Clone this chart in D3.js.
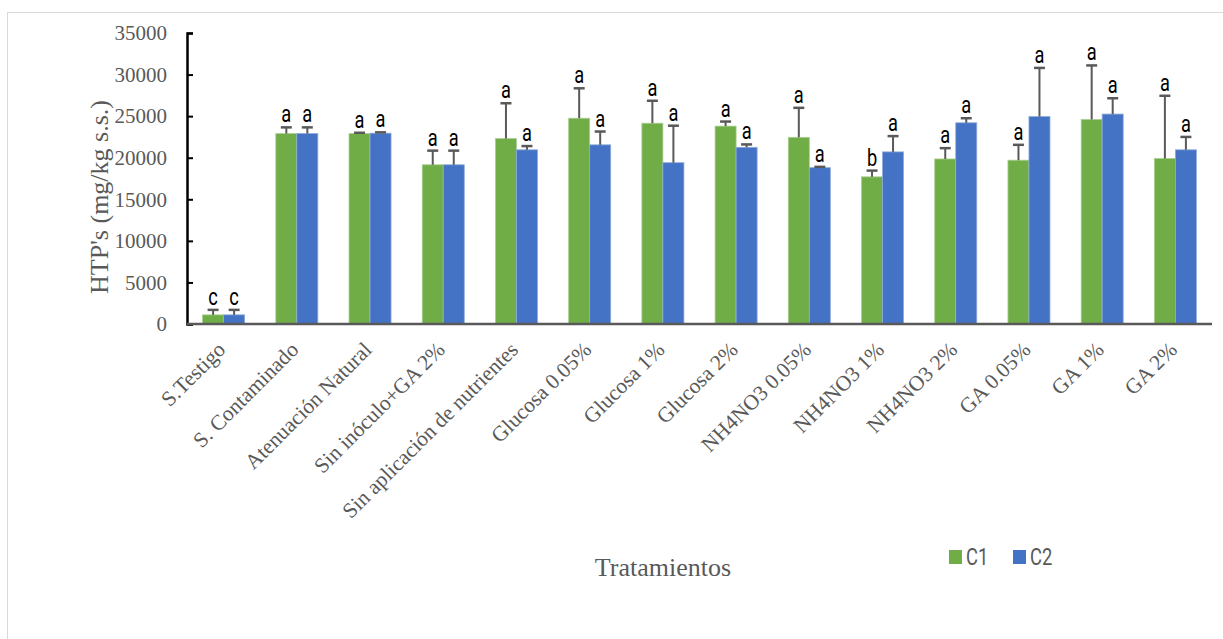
<!DOCTYPE html>
<html>
<head>
<meta charset="utf-8">
<script src="https://cdn.jsdelivr.net/npm/d3@7"></script>
<style>
  html, body { margin: 0; padding: 0; background: #fff; }
  svg { display: block; }
</style>
</head>
<body>
<svg id="chart" width="1223" height="639"></svg>
<script>
// Treatments on the x axis
const categories = [
  "S.Testigo", "S. Contaminado", "Atenuación Natural", "Sin inóculo+GA 2%",
  "Sin aplicación de nutrientes", "Glucosa 0.05%", "Glucosa 1%", "Glucosa 2%",
  "NH4NO3 0.05%", "NH4NO3 1%", "NH4NO3 2%", "GA 0.05%", "GA 1%", "GA 2%"
];
const seriesNames = ["C1", "C2"];

// HTP's (mg/kg s.s.) per treatment
const c1Values = [1100, 22900, 22900, 19150, 22300, 24750, 24150, 23800, 22450, 17700, 19850, 19700, 24600, 19900];
const c2Values = [1100, 22900, 22950, 19150, 20950, 21550, 19400, 21250, 18800, 20700, 24200, 24950, 25250, 20950];

// Upper error (standard deviation)
const c1Errors = [600, 750, 100, 1700, 4250, 3600, 2700, 550, 3550, 750, 1300, 1850, 6500, 7550];
const c2Errors = [600, 750, 100, 1700, 450, 1600, 4450, 350, 100, 1900, 550, 5850, 1900, 1550];

// Significance letters
const c1Letters = ["c", "a", "a", "a", "a", "a", "a", "a", "a", "b", "a", "a", "a", "a"];
const c2Letters = ["c", "a", "a", "a", "a", "a", "a", "a", "a", "a", "a", "a", "a", "a"];

const yTicks = [0, 5000, 10000, 15000, 20000, 25000, 30000, 35000];

const colors = { C1: "#70AD47", C2: "#4472C4" };
const strokes = { C1: "#a9cf8f", C2: "#8eaadb" };

const svg = d3.select("#chart");

// outer chart frame
svg.append("rect")
  .attr("x", 7.5).attr("y", 12.5)
  .attr("width", 1400).attr("height", 800)
  .attr("fill", "#fff").attr("stroke", "#d9d9d9").attr("stroke-width", 1);

const plot = { left: 187, right: 1212, top: 33, bottom: 324 };

const x0 = d3.scaleBand()
  .domain(categories)
  .range([plot.left, plot.right])
  .paddingInner(0.426)
  .paddingOuter(0.213);

const x1 = d3.scaleBand()
  .domain(seriesNames)
  .range([0, x0.bandwidth()]);

const y = d3.scaleLinear()
  .domain([0, 35000])
  .range([plot.bottom, plot.top]);

const rows = categories.map((c, i) => ({
  category: c,
  bars: [
    { key: "C1", value: c1Values[i], err: c1Errors[i], letter: c1Letters[i] },
    { key: "C2", value: c2Values[i], err: c2Errors[i], letter: c2Letters[i] }
  ]
}));

// y axis
const yAxis = d3.axisLeft(y).tickValues(yTicks).tickSize(-6).tickPadding(20).tickFormat(d3.format("d"));
const gy = svg.append("g").attr("transform", `translate(${plot.left},0)`).call(yAxis);
gy.select(".domain").attr("stroke", "#000").attr("stroke-width", 2.5);
gy.selectAll(".tick line").attr("stroke", "#000").attr("stroke-width", 2);
gy.selectAll(".tick text")
  .attr("font-family", "'Liberation Serif', 'Times New Roman', serif")
  .attr("font-size", 21).attr("fill", "#595959");

// bars
const groups = svg.append("g").selectAll("g")
  .data(rows).join("g")
  .attr("transform", d => `translate(${x0(d.category)},0)`);

groups.selectAll("rect")
  .data(d => d.bars).join("rect")
  .attr("x", d => x1(d.key))
  .attr("y", d => y(d.value))
  .attr("width", x1.bandwidth())
  .attr("height", d => y(0) - y(d.value))
  .attr("fill", d => colors[d.key])
  .attr("stroke", d => strokes[d.key])
  .attr("stroke-width", 0.8);

// error bars (upper)
const capHalf = 5.5;
const eb = groups.selectAll("g.err")
  .data(d => d.bars).join("g").attr("class", "err");
eb.append("line")
  .attr("x1", d => x1(d.key) + x1.bandwidth() / 2)
  .attr("x2", d => x1(d.key) + x1.bandwidth() / 2)
  .attr("y1", d => y(d.value))
  .attr("y2", d => y(d.value + d.err))
  .attr("stroke", "#595959").attr("stroke-width", 2);
eb.append("line")
  .attr("x1", d => x1(d.key) + x1.bandwidth() / 2 - capHalf)
  .attr("x2", d => x1(d.key) + x1.bandwidth() / 2 + capHalf)
  .attr("y1", d => y(d.value + d.err))
  .attr("y2", d => y(d.value + d.err))
  .attr("stroke", "#595959").attr("stroke-width", 2.5);

// significance letters
eb.append("text")
  .attr("transform", d => `translate(${x1(d.key) + x1.bandwidth() / 2},${y(d.value + d.err) - 5}) scale(0.76,1)`)
  .attr("text-anchor", "middle")
  .attr("font-family", "Roboto, 'Liberation Sans', sans-serif")
  .attr("font-size", 24)
  .attr("fill", "#000")
  .text(d => d.letter);

// x axis baseline
svg.append("line")
  .attr("x1", plot.left).attr("x2", plot.right)
  .attr("y1", y(0)).attr("y2", y(0))
  .attr("stroke", "#595959").attr("stroke-width", 2.5);

// rotated category labels
svg.append("g").selectAll("text")
  .data(categories).join("text")
  .attr("transform", d => `translate(${x0(d) + x0.bandwidth() / 2 + 3},351) rotate(-45)`)
  .attr("text-anchor", "end")
  .attr("font-family", "'Liberation Serif', 'Times New Roman', serif")
  .attr("font-size", 21.5)
  .attr("fill", "#595959")
  .text(d => d);

// axis titles
svg.append("text")
  .attr("transform", "translate(108,197) rotate(-90)")
  .attr("text-anchor", "middle")
  .attr("font-family", "'Liberation Serif', 'Times New Roman', serif")
  .attr("font-size", 26)
  .attr("fill", "#595959")
  .text("HTP's (mg/kg s.s.)");

svg.append("text")
  .attr("x", 663).attr("y", 576)
  .attr("text-anchor", "middle")
  .attr("font-family", "'Liberation Serif', 'Times New Roman', serif")
  .attr("font-size", 26)
  .attr("fill", "#595959")
  .text("Tratamientos");

// legend
const legendX = [949, 1013];
const legend = svg.append("g").selectAll("g")
  .data(seriesNames).join("g")
  .attr("transform", (d, i) => `translate(${legendX[i]},550)`);
legend.append("rect")
  .attr("width", 13).attr("height", 14)
  .attr("fill", d => colors[d]);
legend.append("text")
  .attr("transform", "translate(17,14.5) scale(0.8,1)")
  .attr("font-family", "Roboto, 'Liberation Sans', sans-serif")
  .attr("font-size", 23)
  .attr("fill", "#595959")
  .text(d => d);
</script>
</body>
</html>
